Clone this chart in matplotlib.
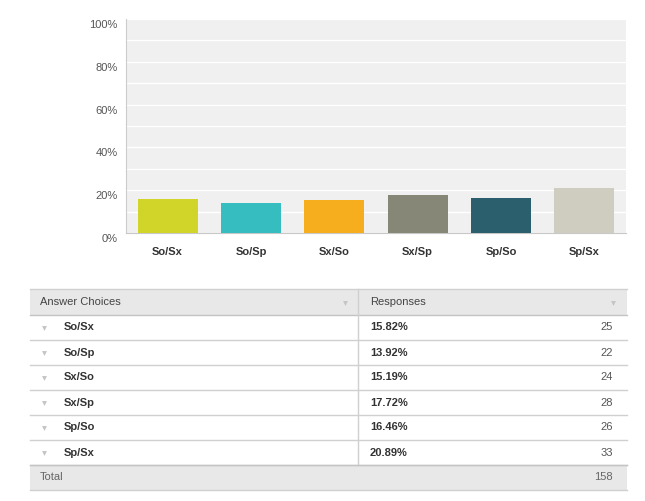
import matplotlib
matplotlib.use("Agg")
import matplotlib.pyplot as plt
from matplotlib.transforms import ScaledTranslation

plt.rcParams["font.family"] = ["Liberation Sans", "DejaVu Sans"]

# ── Data ──────────────────────────────────────────────────
choices   = ["So/Sx", "So/Sp", "Sx/So", "Sx/Sp", "Sp/So", "Sp/Sx"]
percents  = [15.82, 13.92, 15.19, 17.72, 16.46, 20.89]
counts    = [25, 22, 24, 28, 26, 33]
total     = 158
colors    = ["#d1d52a", "#36bdbf", "#f6ae1f", "#878777", "#2c5f6d", "#cfcdbf"]
yticks    = [0, 20, 40, 60, 80, 100]

W, H = 645, 501
fig = plt.figure(figsize=(W / 100, H / 100), dpi=100)

# ── Bar chart ─────────────────────────────────────────────
L, R, T, B = 126, 626, 19, 233
ax = fig.add_axes([L / W, 1 - B / H, (R - L) / W, (B - T) / H])
ax.set_facecolor("#f0f0f0")
x = range(len(choices))
ax.bar(x, percents, width=0.72, color=colors, zorder=3)
ax.set_xlim(-0.5, len(choices) - 0.5)
ax.set_ylim(0, 100)
ax.set_yticks(yticks)
ax.set_yticks(range(10, 100, 20), minor=True)
ax.yaxis.grid(True, which="both", color="white", lw=1.0, zorder=1)
ax.set_yticklabels([f"{v}%" for v in yticks], fontsize=8, color="#555555")
ax.set_xticks(list(x))
ax.set_xticklabels(choices, fontsize=8, fontweight="bold", color="#333333")
ax.tick_params(axis="both", which="both", length=0)
ax.tick_params(axis="y", pad=6)
ax.tick_params(axis="x", pad=10)
# labels sit a little below their gridlines
shift = ScaledTranslation(0, -5 / 100, fig.dpi_scale_trans)
for lab in ax.get_yticklabels():
    lab.set_transform(lab.get_transform() + shift)
for s in ["top", "right"]:
    ax.spines[s].set_visible(False)
ax.spines["left"].set_color("#cccccc")
ax.spines["bottom"].set_color("#c8c8c8")

# ── Table (drawn in pixel coords) ─────────────────────────
tb = fig.add_axes([0, 0, 1, 1])
tb.set_xlim(0, W)
tb.set_ylim(H, 0)
tb.axis("off")

x0, x1, xdiv = 30, 627, 358
hdr_top, hdr_bot = 289, 315
row_h = 25
line_c = "#d0d0d0"

tb.add_patch(plt.Rectangle((x0, hdr_top), x1 - x0, hdr_bot - hdr_top,
                           facecolor="#e8e8e8", edgecolor="none"))
tb.plot([x0, x1], [hdr_top, hdr_top], color=line_c, lw=1)
tb.plot([x0, x1], [hdr_bot, hdr_bot], color="#c4c4c4", lw=1)
tb.plot([xdiv, xdiv], [hdr_top, hdr_bot + row_h * len(choices)], color=line_c, lw=1)
tb.text(40, (hdr_top + hdr_bot) / 2, "Answer Choices", fontsize=8,
        color="#444444", va="center")
tb.text(370, (hdr_top + hdr_bot) / 2, "Responses", fontsize=8,
        color="#444444", va="center")
for tx in [345, 613]:
    tb.plot(tx, (hdr_top + hdr_bot) / 2 + 0.5, marker="v", ms=3.5,
            color="#c4c4c4", mec="none")

for i, (c, p, n) in enumerate(zip(choices, percents, counts)):
    top = hdr_bot + i * row_h
    yc = top + row_h / 2
    tb.plot(44, yc + 0.5, marker="v", ms=3.5, color="#c4c4c4", mec="none")
    tb.text(64, yc, c, fontsize=8, fontweight="bold", color="#333333", va="center")
    tb.text(370, yc, f"{p:.2f}%", fontsize=8, fontweight="bold",
            color="#333333", va="center")
    tb.text(613, yc, str(n), fontsize=8, color="#555555", va="center", ha="right")
    tb.plot([x0, x1], [top + row_h, top + row_h], color=line_c, lw=1)

tot_top = hdr_bot + len(choices) * row_h
tb.add_patch(plt.Rectangle((x0, tot_top), x1 - x0, row_h,
                           facecolor="#e8e8e8", edgecolor="none"))
tb.plot([x0, x1], [tot_top, tot_top], color="#c4c4c4", lw=1)
tb.plot([x0, x1], [tot_top + row_h, tot_top + row_h], color=line_c, lw=1)
tb.text(40, tot_top + row_h / 2, "Total", fontsize=8, color="#666666", va="center")
tb.text(613, tot_top + row_h / 2, str(total), fontsize=8, color="#666666",
        va="center", ha="right")

fig.savefig("out.png", dpi=100)
